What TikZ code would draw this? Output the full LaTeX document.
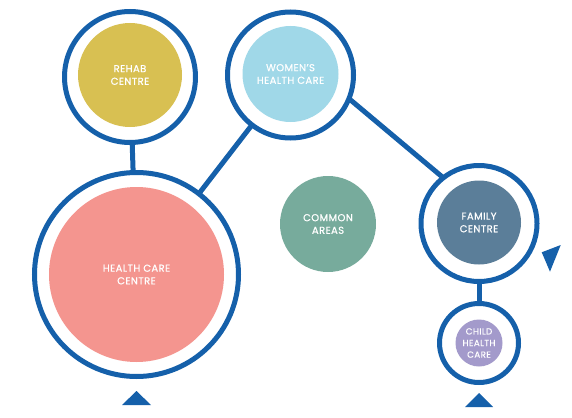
\documentclass[tikz,border=0pt]{standalone}
\usepackage{fontspec}
\setmainfont{Poppins}
\newfontfamily\labelfont{Poppins}[FakeBold=0.6,LetterSpace=4]
\definecolor{ringblue}{HTML}{1560AA}
\definecolor{rehabc}{HTML}{D8C052}
\definecolor{womenc}{HTML}{A0D8E8}
\definecolor{healthc}{HTML}{F4958F}
\definecolor{commonc}{HTML}{77AB9C}
\definecolor{familyc}{HTML}{5B7E99}
\definecolor{childc}{HTML}{A39ACB}
\begin{document}
\begin{tikzpicture}[x=1pt,y=-1pt,
  ring/.style={circle,draw=ringblue,line width=5pt,fill=white,inner sep=0pt,outer sep=0pt,minimum size=#1},
  blob/.style={circle,inner sep=0pt,outer sep=0pt,minimum size=#1,text=white,align=center,
    font=\labelfont\fontsize{10}{12.6}\selectfont},
  link/.style={draw=ringblue,line width=5pt},
  tri/.style={fill=ringblue}]
\useasboundingbox (0,0) rectangle (572,417);
% rings
\node[ring=131] (rehab) at (130,77) {};
\node[ring=204] (hc) at (136.5,274.5) {};
\node[ring=126] (women) at (290.5,75) {};
\node[ring=116] (family) at (479,223.5) {};
\node[ring=79] (child) at (479,343) {};
% connectors
\draw[link] (rehab) -- (hc);
\draw[link] (women) -- (hc);
\draw[link] (women.-22.5) -- (family.128.5);
\draw[link] (family) -- (child);
% inner circles
\node[blob=104,fill=rehabc] (rehabin) at ([yshift=2pt]rehab.center) {REHAB\\CENTRE};
\node[blob=175,fill=healthc] (hcin) at (hc.center) {HEALTH CARE\\CENTRE};
\node[blob=96,fill=womenc] (womenin) at ([yshift=1pt]women.center) {WOMEN’S\\HEALTH CARE};
\node[blob=96,fill=commonc] (common) at (328,224) {COMMON\\AREAS};
\node[blob=84,fill=familyc] (familyin) at ([yshift=1pt]family.center) {FAMILY\\CENTRE};
\node[blob=47,fill=childc,font=\labelfont\fontsize{8.8}{11.6}\selectfont] (childin) at (child.center) {CHILD\\HEALTH\\CARE};
% triangles
\fill[tri] (122,405) -- (151,405) -- (136.5,391) -- cycle;
\fill[tri] (465,407) -- (493,407) -- (479,393) -- cycle;
\fill[tri] (541.7,252.3) -- (560.7,245) -- (550,271.7) -- cycle;
\end{tikzpicture}
\end{document}
